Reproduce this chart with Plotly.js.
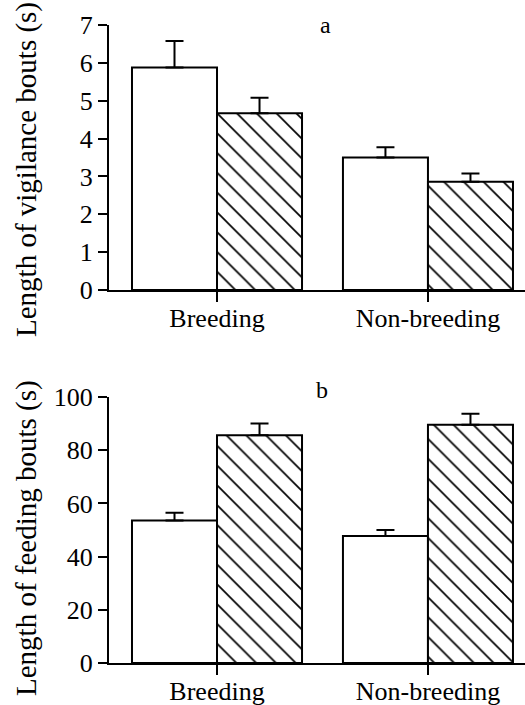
<!DOCTYPE html>
<html>
<head>
<meta charset="utf-8">
<script src="https://cdn.plot.ly/plotly-3.0.1.min.js"></script>
<style>html,body{margin:0;padding:0;background:#fff;}#chart{width:525px;height:705px;}</style>
</head>
<body>
<div id="chart"></div>
<script>
// Categories
var categories = ['Breeding', 'Non-breeding'];

// Panel a: length of vigilance bouts (s)
var vigilanceOpen = [5.88, 3.50];
var vigilanceOpenErr = [0.70, 0.27];
var vigilanceHatched = [4.67, 2.86];
var vigilanceHatchedErr = [0.41, 0.22];

// Panel b: length of feeding bouts (s)
var feedingOpen = [53.6, 47.7];
var feedingOpenErr = [2.9, 2.3];
var feedingHatched = [85.6, 89.6];
var feedingHatchedErr = [4.4, 4.1];

var vigTicks = [0, 1, 2, 3, 4, 5, 6, 7];
var feedTicks = [0, 20, 40, 60, 80, 100];

var titleA = 'Length of vigilance bouts (s)';
var titleB = 'Length of feeding bouts (s)';
var panelLabels = ['a', 'b'];

var FONT = 'Liberation Serif, Times New Roman, serif';

function zeros(n) { var a = []; for (var i = 0; i < n; i++) a.push(0); return a; }

function barTrace(y, err, hatched, xa, ya) {
  return {
    type: 'bar',
    x: categories,
    y: y,
    xaxis: xa,
    yaxis: ya,
    showlegend: false,
    marker: {
      color: '#ffffff',
      line: { color: '#000000', width: 2 },
      pattern: hatched ? { shape: '\\', fgcolor: '#000000', bgcolor: '#ffffff', size: 14, solidity: 0.12 } : { shape: '' }
    },
    error_y: {
      type: 'data',
      symmetric: false,
      array: err,
      arrayminus: zeros(err.length),
      color: '#000000',
      thickness: 2,
      width: 9
    },
    hoverinfo: 'skip'
  };
}

var data = [
  barTrace(vigilanceOpen, vigilanceOpenErr, false, 'x', 'y'),
  barTrace(vigilanceHatched, vigilanceHatchedErr, true, 'x', 'y'),
  barTrace(feedingOpen, feedingOpenErr, false, 'x2', 'y2'),
  barTrace(feedingHatched, feedingHatchedErr, true, 'x2', 'y2')
];

var H = 705;
function py(pix) { return 1 - pix / H; }
function pxx(pix) { return (pix - 109) / 416; }

var xCommon = {
  type: 'category',
  range: [-0.512, 1.46],
  showline: true, linecolor: '#000', linewidth: 2,
  ticks: 'outside', ticklen: 10, tickwidth: 2, tickcolor: '#000',
  ticklabelstandoff: -6,
  showgrid: false, zeroline: false,
  tickfont: { family: FONT, size: 26, color: '#000' },
  fixedrange: true
};

function yCommon(range, ticks) {
  return {
    range: range,
    tickvals: ticks,
    showline: true, linecolor: '#000', linewidth: 2,
    ticks: 'outside', ticklen: 9, tickwidth: 2, tickcolor: '#000',
    showgrid: false, zeroline: false,
    tickfont: { family: FONT, size: 26, color: '#000' },
    fixedrange: true
  };
}

function annot(text, x, y, size, angle) {
  return { text: text, xref: 'paper', yref: 'paper', x: x, y: y, xanchor: 'center', yanchor: 'middle',
           showarrow: false, textangle: angle || 0, font: { family: FONT, size: size, color: '#000' } };
}

var layout = {
  width: 525,
  height: 705,
  margin: { l: 109, r: 0, t: 0, b: 0 },
  paper_bgcolor: '#fff',
  plot_bgcolor: 'rgba(0,0,0,0)',
  barmode: 'group',
  bargap: 0.194,
  bargroupgap: 0,
  showlegend: false,
  font: { family: FONT, color: '#000' },
  xaxis: Object.assign({}, xCommon, { domain: [0, 1], anchor: 'y' }),
  yaxis: Object.assign(yCommon([0, 7], vigTicks), { domain: [py(290), py(25)], anchor: 'x' }),
  xaxis2: Object.assign({}, xCommon, { domain: [0, 1], anchor: 'y2' }),
  yaxis2: Object.assign(yCommon([0, 100], feedTicks), { domain: [py(663), py(397)], anchor: 'x2' }),
  annotations: [
    annot(panelLabels[0], pxx(325), py(25), 24),
    annot(panelLabels[1], pxx(322), py(390), 24),
    annot(titleA, pxx(26), py(170), 29, -90),
    annot(titleB, pxx(26), py(538), 29, -90)
  ]
};

Plotly.newPlot('chart', data, layout, { displayModeBar: false, staticPlot: true });
</script>
</body>
</html>
